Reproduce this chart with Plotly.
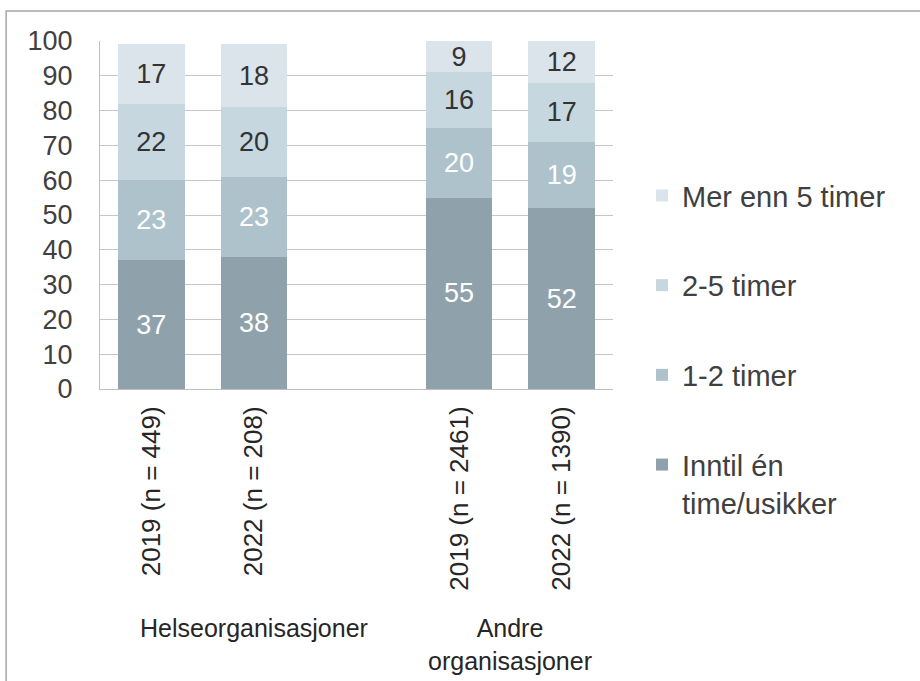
import plotly.graph_objects as go

# ---- data ----
categories = ["2019 (n = 449)", "2022 (n = 208)", "2019 (n = 2461)", "2022 (n = 1390)"]
gap_category = " "
groups = ["Helseorganisasjoner", "Andre<br>organisasjoner"]
series_names = ["Inntil én<br>time/usikker", "1-2 timer", "2-5 timer", "Mer enn 5 timer"]
inntil_en_time = [37, 38, 55, 52]
en_to_timer = [23, 23, 20, 19]
to_fem_timer = [22, 20, 16, 17]
mer_enn_fem = [17, 18, 9, 12]
y_ticks = [0, 10, 20, 30, 40, 50, 60, 70, 80, 90, 100]

series_values = [inntil_en_time, en_to_timer, to_fem_timer, mer_enn_fem]
colors = ["#8FA1AA", "#ADC2CB", "#C6D7DF", "#DBE4EA"]
text_colors = ["#FFFFFF", "#FFFFFF", "#333333", "#333333"]

FONT = "Liberation Sans, Arial, sans-serif"

fig = go.Figure()
n = len(series_names)
for i, (name, vals) in enumerate(zip(series_names, series_values)):
    fig.add_trace(go.Bar(
        x=categories, y=vals, name=name,
        marker=dict(color=colors[i], line=dict(width=0)),
        text=[str(v) for v in vals],
        textposition="inside", insidetextanchor="middle",
        textangle=0, constraintext="none",
        textfont=dict(family=FONT, size=27, color=text_colors[i]),
        legendgroup=f"g{i}", legendrank=n - i,
        hoverinfo="skip",
    ))

cat_array = [categories[0], categories[1], gap_category, categories[2], categories[3]]

fig.update_layout(
    width=920, height=681,
    barmode="stack", bargap=0.35,
    paper_bgcolor="white", plot_bgcolor="white",
    margin=dict(l=100, r=307, t=41, b=292),
    font=dict(family=FONT, color="#404040"),
    xaxis=dict(
        type="category", categoryorder="array", categoryarray=cat_array,
        range=[-0.5, 4.5], tickangle=-90,
        tickfont=dict(family=FONT, size=26, color="#262626"),
        showline=True, linecolor="#BFBFBF", linewidth=1,
        showgrid=False, ticks="", ticklabelstandoff=6,
    ),
    yaxis=dict(
        range=[0, 100], tickvals=y_ticks,
        tickfont=dict(family=FONT, size=27, color="#404040"),
        showgrid=True, gridcolor="#C6C6C6", gridwidth=1,
        showline=True, linecolor="#BFBFBF", linewidth=1,
        zeroline=False, ticks="", ticklabelstandoff=21,
    ),
    legend=dict(
        x=1.0565, y=0.629, xanchor="left", yanchor="top",
        traceorder="grouped", tracegroupgap=49,
        valign="top", maxheight=640,
        font=dict(family=FONT, size=29, color="#404040"),
        bgcolor="rgba(0,0,0,0)",
    ),
    showlegend=True,
)

# group labels under the category axis
fig.add_annotation(x=1, y=-0.64, xref="x", yref="paper", text=groups[0],
                   showarrow=False, yanchor="top", xanchor="center",
                   font=dict(family=FONT, size=25, color="#262626"))
fig.add_annotation(x=3.5, y=-0.64, xref="x", yref="paper", text=groups[1],
                   showarrow=False, yanchor="top", xanchor="center",
                   font=dict(family=FONT, size=25, color="#262626"))

# outer frame
fig.add_shape(type="rect", xref="paper", yref="paper",
              x0=-0.183, y0=-1.0, x1=1.7, y1=1.086,
              line=dict(color="#A6A6A6", width=1.5), fillcolor="rgba(0,0,0,0)",
              layer="below")

fig.write_html("out.html", config={"displayModeBar": False},
               post_script="document.body.style.margin='0px';")
